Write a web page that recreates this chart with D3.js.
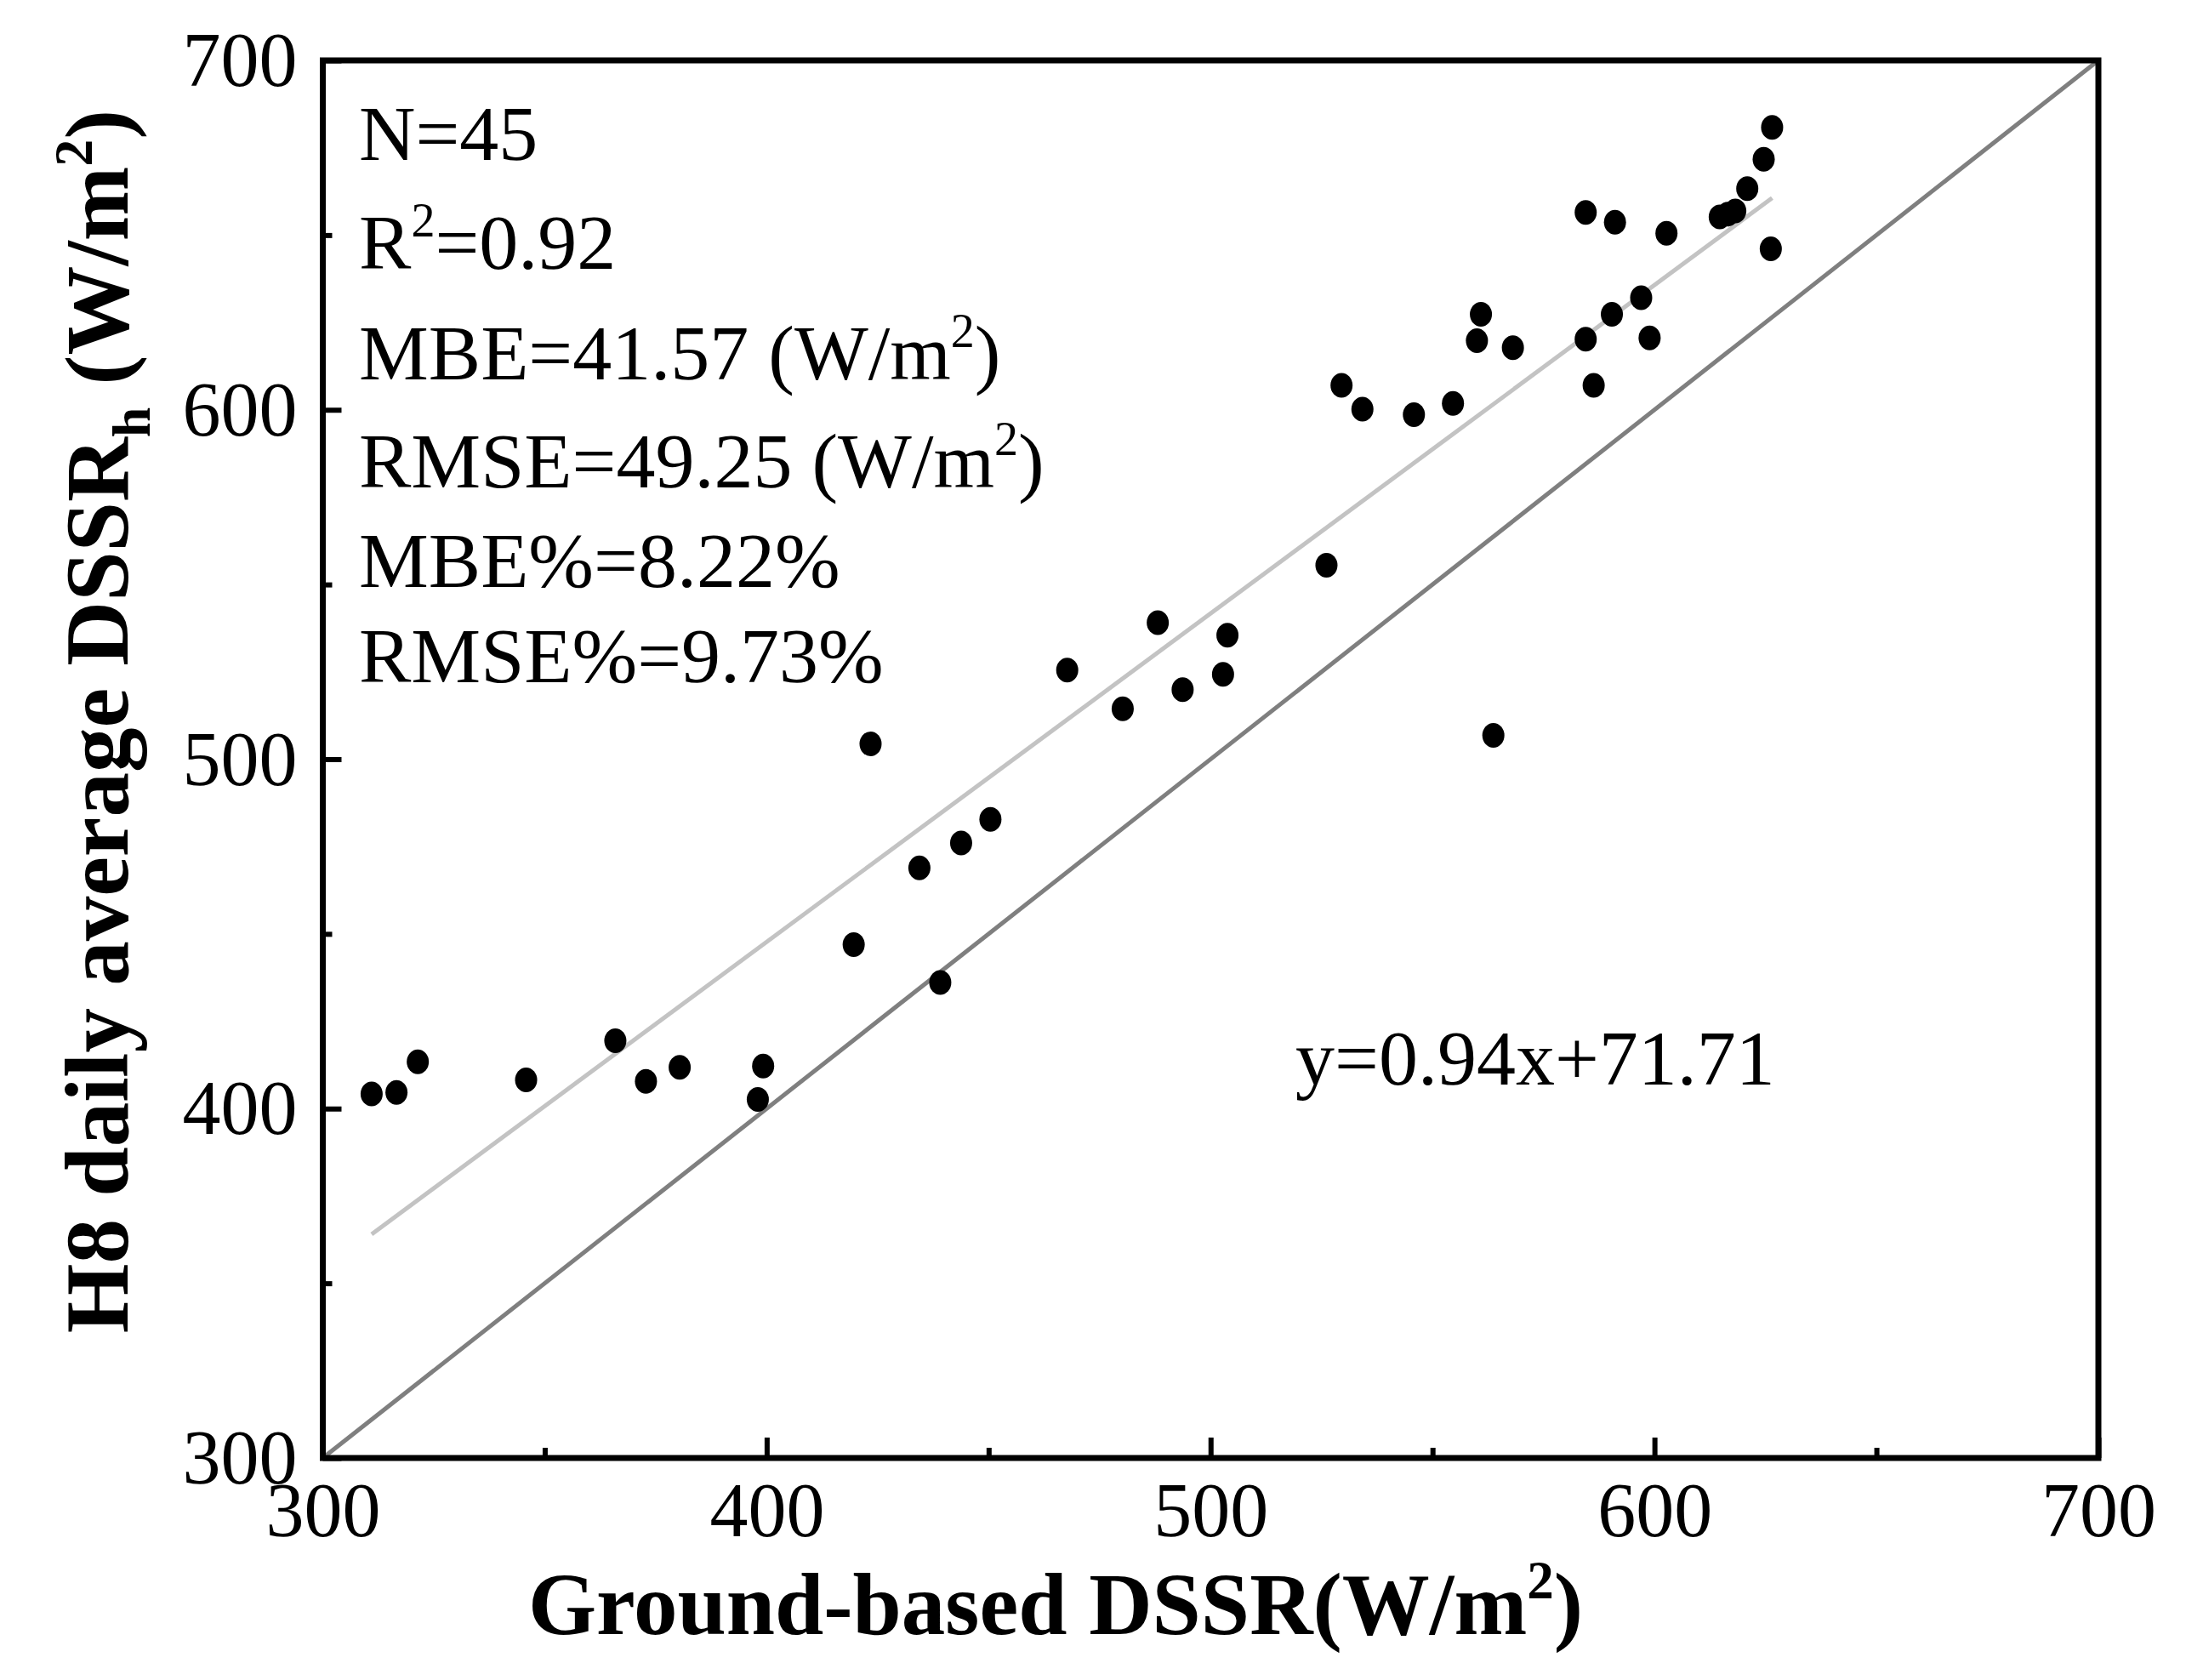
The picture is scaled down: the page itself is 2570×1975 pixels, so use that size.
<!DOCTYPE html>
<html>
<head>
<meta charset="utf-8">
<script src="https://cdn.jsdelivr.net/npm/d3@7"></script>
<style>
  html, body { margin: 0; padding: 0; background: #fff; }
  svg { display: block; }
  text { font-family: "Liberation Serif", "Times New Roman", serif; fill: #000; }
</style>
</head>
<body>
<svg id="chart" width="2570" height="1975"></svg>
<script>
// ---- data ----
const groundDSSR = [311.0, 316.6, 321.4, 345.8, 365.9, 372.8, 380.4, 398.0, 399.2, 419.6,
  423.4, 434.4, 439.1, 443.8, 450.4, 467.7, 480.2, 488.1, 493.7, 502.8,
  503.8, 526.1, 529.5, 534.2, 545.8, 554.6, 560.0, 560.9, 563.7, 568.1,
  584.5, 584.5, 586.3, 590.4, 591.1, 597.0, 598.9, 602.7, 614.7, 618.2,
  620.9, 624.6, 626.5, 626.2, 616.5];
const h8DSSR = [404.2, 404.6, 413.4, 408.2, 419.4, 407.8, 411.8, 402.6, 412.2, 446.9,
  504.4, 468.9, 436.1, 476.0, 482.8, 525.5, 514.4, 539.1, 519.9, 524.3,
  535.5, 555.5, 607.0, 600.2, 598.6, 601.8, 619.8, 627.3, 506.8, 617.8,
  656.5, 620.2, 607.0, 627.3, 653.7, 632.1, 620.6, 650.5, 655.2, 656.9,
  663.3, 671.7, 680.8, 646.1, 656.0];
const majorTicks = [300, 400, 500, 600, 700];
const minorTicks = [350, 450, 550, 650];
const axisDomain = [300, 700];
const fitSlope = 0.94;
const fitIntercept = 71.71;
const fitRange = [311.0, 626.5];
const statLines = [
  [{t: "N=45"}],
  [{t: "R"}, {t: "2", sup: true}, {t: "=0.92"}],
  [{t: "MBE=41.57 (W/m"}, {t: "2", sup: true}, {t: ")"}],
  [{t: "RMSE=49.25 (W/m"}, {t: "2", sup: true}, {t: ")"}],
  [{t: "MBE%=8.22%"}],
  [{t: "RMSE%=9.73%"}]
];
const equationText = "y=0.94x+71.71";

// ---- layout ----
const svg = d3.select("#chart");
const pLeft = 379.5, pRight = 2467, pTop = 71, pBottom = 1714;
const x = d3.scaleLinear().domain(axisDomain).range([pLeft, pRight]);
const y = d3.scaleLinear().domain(axisDomain).range([pBottom, pTop]);

// 1:1 line
svg.append("line")
  .attr("x1", x(axisDomain[0])).attr("y1", y(axisDomain[0]))
  .attr("x2", x(axisDomain[1])).attr("y2", y(axisDomain[1]))
  .attr("stroke", "#7f7f7f").attr("stroke-width", 5);

// regression line
svg.append("line")
  .attr("x1", x(fitRange[0])).attr("y1", y(fitSlope * fitRange[0] + fitIntercept))
  .attr("x2", x(fitRange[1])).attr("y2", y(fitSlope * fitRange[1] + fitIntercept))
  .attr("stroke", "#c3c3c3").attr("stroke-width", 5);

// points
svg.append("g").selectAll("ellipse")
  .data(groundDSSR.map((g, i) => [g, h8DSSR[i]]))
  .join("ellipse")
  .attr("cx", d => x(d[0])).attr("cy", d => y(d[1]))
  .attr("rx", 13).attr("ry", 14.5)
  .attr("fill", "#000");

// axes (inward ticks)
const tickStroke = 6;
const yAxisMajor = svg.append("g").attr("transform", `translate(${pLeft},0)`)
  .call(d3.axisLeft(y).tickValues(majorTicks).tickSize(-22).tickPadding(30).tickFormat(d3.format("d")));
const yAxisMinor = svg.append("g").attr("transform", `translate(${pLeft},0)`)
  .call(d3.axisLeft(y).tickValues(minorTicks).tickSize(-11).tickFormat(""));
const xAxisMajor = svg.append("g").attr("transform", `translate(0,${pBottom})`)
  .call(d3.axisBottom(x).tickValues(majorTicks).tickSize(-24).tickPadding(28).tickFormat(d3.format("d")));
const xAxisMinor = svg.append("g").attr("transform", `translate(0,${pBottom})`)
  .call(d3.axisBottom(x).tickValues(minorTicks).tickSize(-12).tickFormat(""));
[yAxisMajor, yAxisMinor, xAxisMajor, xAxisMinor].forEach(g => {
  g.select(".domain").remove();
  g.selectAll(".tick line").attr("stroke", "#000").attr("stroke-width", tickStroke);
  g.selectAll(".tick text")
    .attr("font-family", "'Liberation Serif', 'Times New Roman', serif")
    .attr("font-size", 90).attr("fill", "#000");
});
yAxisMajor.selectAll(".tick text").attr("dy", "0.33em");
xAxisMajor.selectAll(".tick text").attr("dy", "0.71em");

// frame
svg.append("rect")
  .attr("x", pLeft).attr("y", pTop)
  .attr("width", pRight - pLeft).attr("height", pBottom - pTop)
  .attr("fill", "none").attr("stroke", "#000").attr("stroke-width", 7);

// stats text
const statBaselines = [188, 316, 446, 573, 690, 802];
const statX = 422;
statLines.forEach((parts, i) => {
  const t = svg.append("text").attr("x", statX).attr("y", statBaselines[i]).attr("font-size", 92);
  parts.forEach((p, j) => {
    const s = t.append("tspan").text(p.t);
    if (p.sup) s.attr("font-size", 56).attr("dy", -38);
    else if (j > 0 && parts[j - 1].sup) s.attr("dy", 38);
  });
});

// equation
svg.append("text").attr("x", 1523).attr("y", 1275).attr("font-size", 92).text(equationText);

// x title
const xt = svg.append("text")
  .attr("x", 1241).attr("y", 1921)
  .attr("text-anchor", "middle")
  .attr("font-size", 103).attr("font-weight", "bold");
xt.append("tspan").text("Ground-based DSSR(W/m");
xt.append("tspan").text("2").attr("font-size", 63).attr("dy", -42);
xt.append("tspan").text(")").attr("dy", 42);

// y title
const yt = svg.append("text")
  .attr("transform", "translate(150,848) rotate(-90)")
  .attr("text-anchor", "middle")
  .attr("font-size", 105).attr("font-weight", "bold");
yt.append("tspan").text("H8 daily average DSSR");
yt.append("tspan").text("h").attr("font-size", 64).attr("dy", 26);
yt.append("tspan").text(" (W/m").attr("dy", -26);
yt.append("tspan").text("2").attr("font-size", 64).attr("dy", -42);
yt.append("tspan").text(")").attr("dy", 42);
</script>
</body>
</html>
